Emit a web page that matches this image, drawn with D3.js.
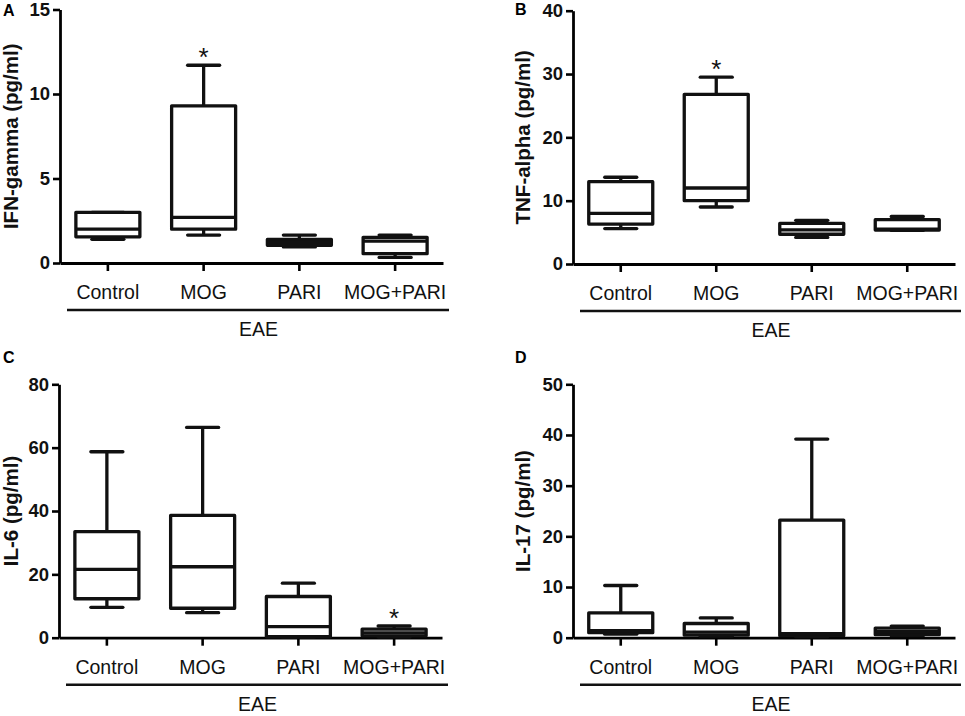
<!DOCTYPE html>
<html>
<head>
<meta charset="utf-8">
<script src="https://cdn.jsdelivr.net/npm/d3@7"></script>
<style>
  body { margin: 0; background: #fff; }
  text { font-family: "Liberation Sans", Arial, sans-serif; }
</style>
</head>
<body>
<script>
// groups on the x axis
var groups = ["Control", "MOG", "PARI", "MOG+PARI"];

// box values per group: [min, q1, median, q3, max]
var ifnGamma = [[1.4, 1.55, 2.0, 3.0, 3.0], [1.65, 2.0, 2.7, 9.3, 11.7], [0.95, 1.05, 1.22, 1.4, 1.65], [0.33, 0.55, 1.3, 1.52, 1.65]];
var tnfAlpha = [[5.6, 6.3, 8.0, 13.0, 13.7], [9.0, 10.0, 12.0, 26.8, 29.5], [4.2, 4.7, 5.4, 6.4, 6.9], [5.3, 5.35, 5.5, 7.0, 7.5]];
var il6 = [[9.6, 12.3, 21.6, 33.5, 58.7], [7.9, 9.3, 22.4, 38.6, 66.4], [0.2, 0.3, 3.5, 13.0, 17.2], [0.3, 0.6, 1.5, 2.7, 3.7]];
var il17 = [[0.7, 1.0, 1.4, 4.9, 10.3], [0.3, 0.5, 1.1, 2.8, 3.9], [0.2, 0.4, 0.8, 23.2, 39.2], [0.4, 0.6, 1.2, 1.9, 2.3]];

// y tick labels
var ifnTicks = [0, 5, 10, 15];
var tnfTicks = [0, 10, 20, 30, 40];
var il6Ticks = [0, 20, 40, 60, 80];
var il17Ticks = [0, 10, 20, 30, 40, 50];

// which group carries a significance star
var ifnStar = ["MOG"];
var tnfStar = ["MOG"];
var il6Star = ["MOG+PARI"];
var il17Star = [];

var svg = d3.select("body").append("svg")
    .attr("width", 965)
    .attr("height", 716);

var boxW = 64, capW = 32, lw = 3.3;

function drawPanel(p) {
    var y = d3.scaleLinear().domain([0, p.ticks[p.ticks.length - 1]]).range([p.y0, p.y1]);
    var x = d3.scaleBand().domain(groups).range([p.x0, p.x1]);

    var g = svg.append("g");

    // panel letter
    svg.append("text")
        .attr("x", p.lx).attr("y", p.ly)
        .attr("font-size", 16).attr("font-weight", "bold")
        .text(p.letter);

    // y axis
    var ya = g.append("g")
        .attr("transform", "translate(" + p.x0 + ",0)")
        .call(d3.axisLeft(y).tickValues(p.ticks).tickSize(7).tickPadding(3).tickSizeOuter(0));
    ya.select(".domain").attr("stroke-width", 2.8);
    ya.selectAll(".tick line").attr("stroke-width", 2.6);
    ya.selectAll(".tick text")
        .attr("font-size", 18.5).attr("font-weight", "bold")
        .attr("font-family", "Liberation Sans, Arial, sans-serif")
        .attr("fill", "#111");

    // x axis
    var xa = g.append("g")
        .attr("transform", "translate(0," + p.y0 + ")")
        .call(d3.axisBottom(x).tickSize(8).tickPadding(14).tickSizeOuter(0));
    xa.select(".domain").attr("stroke-width", 2.8);
    xa.selectAll(".tick line").attr("stroke-width", 2.6);
    xa.selectAll(".tick text")
        .attr("font-size", 19.5)
        .attr("font-family", "Liberation Sans, Arial, sans-serif")
        .attr("fill", "#111");

    // y title
    svg.append("text")
        .attr("transform", "translate(" + p.tx + "," + ((p.y0 + p.y1) / 2) + ") rotate(-90)")
        .attr("text-anchor", "middle")
        .attr("font-size", 20.5).attr("font-weight", "bold")
        .attr("fill", "#111")
        .text(p.title);

    // EAE bracket line and label
    g.append("line")
        .attr("x1", p.x0 + 7).attr("x2", p.x1 + 6)
        .attr("y1", p.y0 + 47).attr("y2", p.y0 + 47)
        .attr("stroke", "#111").attr("stroke-width", 2.4);
    g.append("text")
        .attr("x", (p.x0 + p.x1) / 2 + 7).attr("y", p.y0 + 73)
        .attr("text-anchor", "middle")
        .attr("font-size", 19.5).attr("fill", "#111")
        .text("EAE");

    var boxes = g.selectAll(".box").data(p.data).enter().append("g")
        .attr("class", "box")
        .attr("transform", function(d, i) { return "translate(" + (x(groups[i]) + x.bandwidth() / 2) + ",0)"; });

    boxes.append("line")
        .attr("y1", function(d) { return y(d[3]); })
        .attr("y2", function(d) { return y(d[4]); })
        .attr("stroke", "#111").attr("stroke-width", lw);
    boxes.append("line")
        .attr("y1", function(d) { return y(d[0]); })
        .attr("y2", function(d) { return y(d[1]); })
        .attr("stroke", "#111").attr("stroke-width", lw);
    // caps
    boxes.append("line")
        .attr("x1", -capW / 2).attr("x2", capW / 2)
        .attr("y1", function(d) { return y(d[4]); })
        .attr("y2", function(d) { return y(d[4]); })
        .attr("stroke", "#111").attr("stroke-width", lw).attr("stroke-linecap", "round");
    boxes.append("line")
        .attr("x1", -capW / 2).attr("x2", capW / 2)
        .attr("y1", function(d) { return y(d[0]); })
        .attr("y2", function(d) { return y(d[0]); })
        .attr("stroke", "#111").attr("stroke-width", lw).attr("stroke-linecap", "round");
    boxes.append("rect")
        .attr("x", -boxW / 2).attr("width", boxW)
        .attr("y", function(d) { return y(d[3]); })
        .attr("height", function(d) { return y(d[1]) - y(d[3]); })
        .attr("fill", "white")
        .attr("stroke", "#111").attr("stroke-width", lw).attr("stroke-linejoin", "round");
    boxes.append("line")
        .attr("x1", -boxW / 2).attr("x2", boxW / 2)
        .attr("y1", function(d) { return y(d[2]); })
        .attr("y2", function(d) { return y(d[2]); })
        .attr("stroke", "#111").attr("stroke-width", lw);

    // stars
    boxes.filter(function(d, i) { return p.star.indexOf(groups[i]) >= 0; })
        .append("text")
        .attr("y", function(d) { return y(d[4]) + 1; })
        .attr("text-anchor", "middle")
        .attr("font-size", 26).attr("fill", "#111")
        .text("*");
}

drawPanel({letter: "A", lx: 3, ly: 16, x0: 60, x1: 443, y0: 263, y1: 9.5, tx: 18,
    title: "IFN-gamma (pg/ml)", data: ifnGamma, ticks: ifnTicks, star: ifnStar});
drawPanel({letter: "B", lx: 515, ly: 15, x0: 573, x1: 955, y0: 264, y1: 10.7, tx: 530,
    title: "TNF-alpha (pg/ml)", data: tnfAlpha, ticks: tnfTicks, star: tnfStar});
drawPanel({letter: "C", lx: 3, ly: 363, x0: 59, x1: 442, y0: 637.7, y1: 384.3, tx: 18,
    title: "IL-6 (pg/ml)", data: il6, ticks: il6Ticks, star: il6Star});
drawPanel({letter: "D", lx: 515, ly: 363, x0: 573, x1: 955, y0: 637.7, y1: 384.3, tx: 530,
    title: "IL-17 (pg/ml)", data: il17, ticks: il17Ticks, star: il17Star});
</script>
</body>
</html>
